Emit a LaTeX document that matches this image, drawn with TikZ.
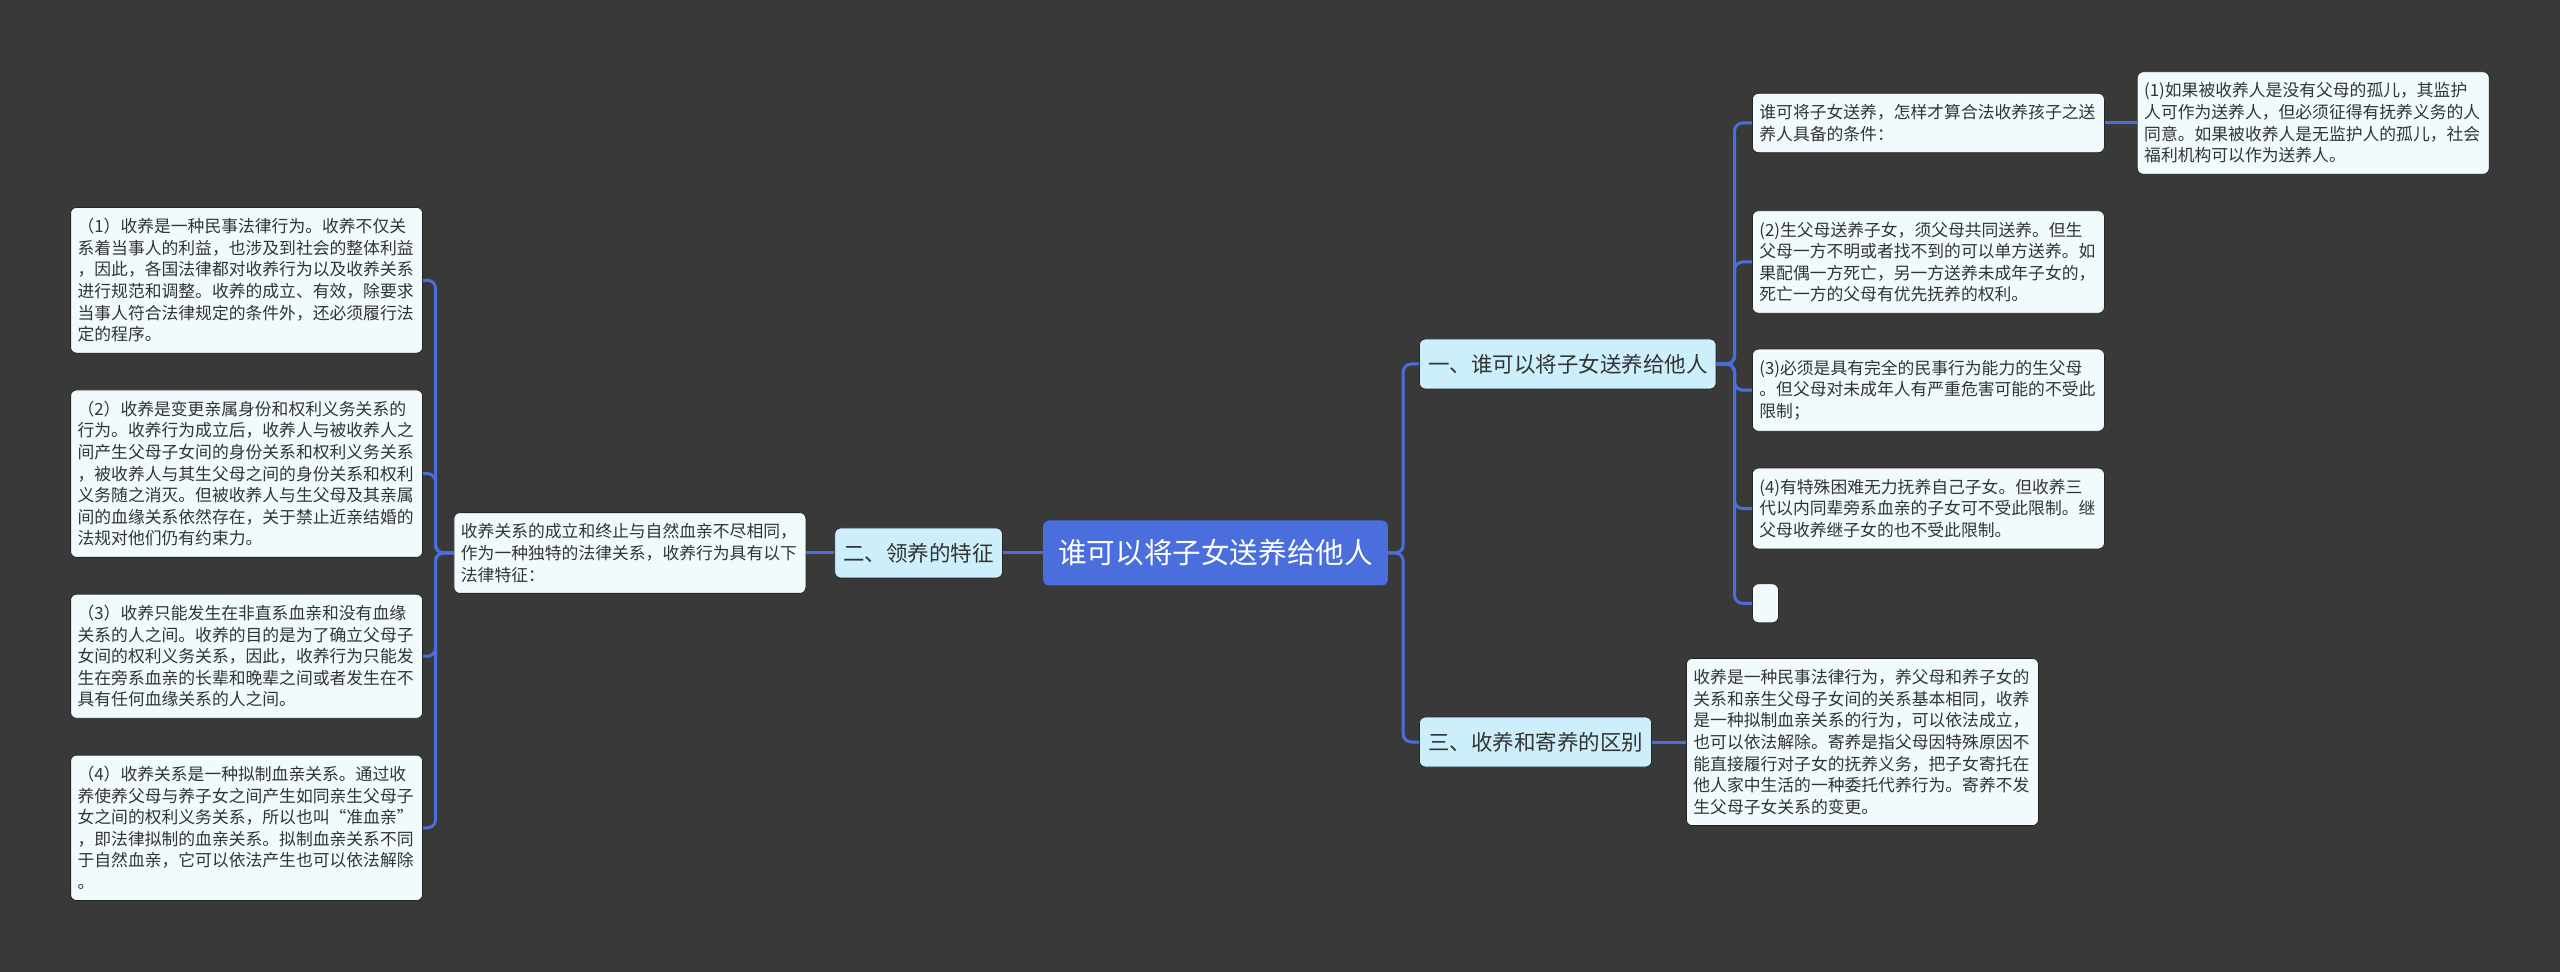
\documentclass[tikz,border=0pt]{standalone}
\usepackage{fontspec}
\newfontfamily\cjk{Noto Sans CJK SC}
\usepackage{tikz}
\usetikzlibrary{positioning}
\usepackage{xcolor}

\definecolor{bg}{HTML}{3A3939}
\definecolor{rootblue}{HTML}{4A6FDC}
\definecolor{topicfill}{HTML}{CDEFFB}
\definecolor{leaffill}{HTML}{F1FBFD}
\definecolor{ink}{HTML}{333333}
\definecolor{rim}{HTML}{262626}

\begin{document}
\begin{tikzpicture}[
                x=0.5pt, y=-0.5pt,
                root/.style={rectangle, fill=rootblue, rounded corners=3pt,
                    text=white, inner xsep=7.5pt, minimum height=32.5pt,
                    font=\cjk\fontsize{14.3}{17}\selectfont},
                topic/.style={rectangle, draw=rim, line width=0.4pt, fill=topicfill,
                    rounded corners=3pt, text=ink, inner xsep=4.3pt, minimum height=25pt,
                    font=\cjk\fontsize{10.75}{13}\selectfont},
                leaf/.style={rectangle, draw=rim, line width=0.4pt, fill=leaffill,
                    rounded corners=3pt, text=ink, text width=169pt, align=left,
                    inner xsep=3.5pt, inner ysep=5.5pt,
                    font=\cjk\fontsize{8.4}{10.8}\selectfont},
                blank/.style={rectangle, draw=rim, line width=0.4pt, fill=leaffill,
                    rounded corners=3pt, minimum width=13pt, minimum height=19.5pt},
                link/.style={draw=rootblue, line width=1.5pt, rounded corners=4pt},
            ]

            \fill[bg] (0,0) rectangle (2560,972);
            \useasboundingbox (0,0) rectangle (2560,972);

            % Centre
            \node[root] (root) at (1215.5,553) {谁可以将子女送养给他人};

            % Left branch
            \node[topic, left=20pt of root] (two) {二、领养的特征};
            \node[leaf, left=14pt of two] (two_note) {收养关系的成立和终止与自然血亲不尽相同，\\作为一种独特的法律关系，收养行为具有以下\\法律特征：};

            \node[leaf, anchor=north east] (feat1) at (423,207) {（1）收养是一种民事法律行为。收养不仅关\\系着当事人的利益，也涉及到社会的整体利益\\，因此，各国法律都对收养行为以及收养关系\\进行规范和调整。收养的成立、有效，除要求\\当事人符合法律规定的条件外，还必须履行法\\定的程序。};
            \node[leaf, below=18pt of feat1] (feat2) {（2）收养是变更亲属身份和权利义务关系的\\行为。收养行为成立后，收养人与被收养人之\\间产生父母子女间的身份关系和权利义务关系\\，被收养人与其生父母之间的身份关系和权利\\义务随之消灭。但被收养人与生父母及其亲属\\间的血缘关系依然存在，关于禁止近亲结婚的\\法规对他们仍有约束力。};
            \node[leaf, below=18pt of feat2] (feat3) {（3）收养只能发生在非直系血亲和没有血缘\\关系的人之间。收养的目的是为了确立父母子\\女间的权利义务关系，因此，收养行为只能发\\生在旁系血亲的长辈和晚辈之间或者发生在不\\具有任何血缘关系的人之间。};
            \node[leaf, below=18pt of feat3] (feat4) {（4）收养关系是一种拟制血亲关系。通过收\\养使养父母与养子女之间产生如同亲生父母子\\女之间的权利义务关系，所以也叫“准血亲”\\，即法律拟制的血亲关系。拟制血亲关系不同\\于自然血亲，它可以依法产生也可以依法解除\\。};

            % Right branch, part one
            \node[topic, anchor=west] (one) at (1419,364) {一、谁可以将子女送养给他人};
            \node[leaf, anchor=west] (cond) at (1752,123) {谁可将子女送养，怎样才算合法收养孩子之送\\养人具备的条件：};
            \node[leaf, right=16pt of cond] (cond_a) {(1)如果被收养人是没有父母的孤儿，其监护\\人可作为送养人，但必须征得有抚养义务的人\\同意。如果被收养人是无监护人的孤儿，社会\\福利机构可以作为送养人。};
            \node[leaf, anchor=west] (cond_b) at (1752,262) {(2)生父母送养子女，须父母共同送养。但生\\父母一方不明或者找不到的可以单方送养。如\\果配偶一方死亡，另一方送养未成年子女的，\\死亡一方的父母有优先抚养的权利。};
            \node[leaf, below=17.5pt of cond_b] (cond_c) {(3)必须是具有完全的民事行为能力的生父母\\。但父母对未成年人有严重危害可能的不受此\\限制；};
            \node[leaf, below=18pt of cond_c] (cond_d) {(4)有特殊困难无力抚养自己子女。但收养三\\代以内同辈旁系血亲的子女可不受此限制。继\\父母收养继子女的也不受此限制。};
            \node[blank, below=17pt of cond_d.south west, anchor=north west] (cond_e) {};

            % Right branch, part three
            \node[topic, anchor=west] (three) at (1419,742) {三、收养和寄养的区别};
            \node[leaf, right=17pt of three] (diff) {收养是一种民事法律行为，养父母和养子女的\\关系和亲生父母子女间的关系基本相同，收养\\是一种拟制血亲关系的行为，可以依法成立，\\也可以依法解除。寄养是指父母因特殊原因不\\能直接履行对子女的抚养义务，把子女寄托在\\他人家中生活的一种委托代养行为。寄养不发\\生父母子女关系的变更。};

            % Links
            \draw[link] (root) -- (two);
            \draw[link] (two) -- (two_note);
            \foreach \f in {feat1,feat2,feat3,feat4}
                \draw[link] (two_note.west) -- ++(-9pt,0) |- (\f.east);

            \draw[link] (root.east) -- ++(7.5pt,0) |- (one.west);
            \draw[link] (root.east) -- ++(7.5pt,0) |- (three.west);

            \foreach \c in {cond,cond_b,cond_c,cond_d,cond_e}
                \draw[link] (one.east) -- ++(9pt,0) |- (\c.west);
            \draw[link] (cond.east) -- (cond.east -| cond_a.west);
            \draw[link] (three) -- (three -| diff.west);

            \end{tikzpicture}
\end{document}
